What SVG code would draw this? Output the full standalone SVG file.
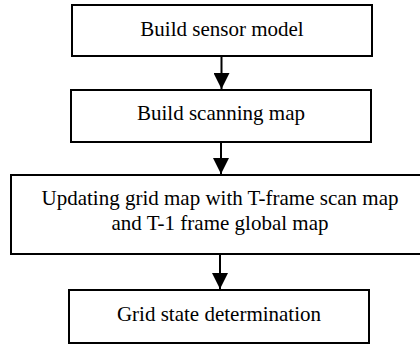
<svg xmlns="http://www.w3.org/2000/svg" width="420" height="347" viewBox="0 0 420 347">
<defs>
<style>
.box{fill:#fff;stroke:#000;stroke-width:2}
text{font-family:'Liberation Serif','DejaVu Serif',serif;font-size:21px;fill:#000;text-anchor:middle}
.c{stroke:#000;stroke-width:2;fill:none}
</style>
<marker id="ah" markerUnits="userSpaceOnUse" markerWidth="16" markerHeight="16" viewBox="0 0 16 16" refX="16" refY="8" orient="auto">
<path d="M0,0 L16,8 L0,16 Z" fill="#000"/>
</marker>
</defs>
<rect width="420" height="347" fill="#fff"/>
<g id="n1"><rect class="box" x="72" y="5" width="300" height="51"/><text x="222" y="36" font-family="Liberation Serif">Build sensor model</text></g>
<g id="n2"><rect class="box" x="71" y="90" width="300" height="52"/><text x="221" y="120" font-family="Liberation Serif">Build scanning map</text></g>
<g id="n3"><rect class="box" x="11" y="175" width="412" height="79"/><text x="220" y="205" font-family="Liberation Serif">Updating grid map with T-frame scan map</text><text x="220" y="230" font-family="Liberation Serif">and T-1 frame global map</text></g>
<g id="n4"><rect class="box" x="69" y="290" width="300" height="53"/><text x="219" y="321" font-family="Liberation Serif">Grid state determination</text></g>
<g id="connectors">
<line class="c" x1="221.5" y1="56" x2="221.5" y2="89" marker-end="url(#ah)"/>
<line class="c" x1="221" y1="142" x2="221" y2="174" marker-end="url(#ah)"/>
<line class="c" x1="220" y1="254" x2="220" y2="289" marker-end="url(#ah)"/>
</g>
</svg>
